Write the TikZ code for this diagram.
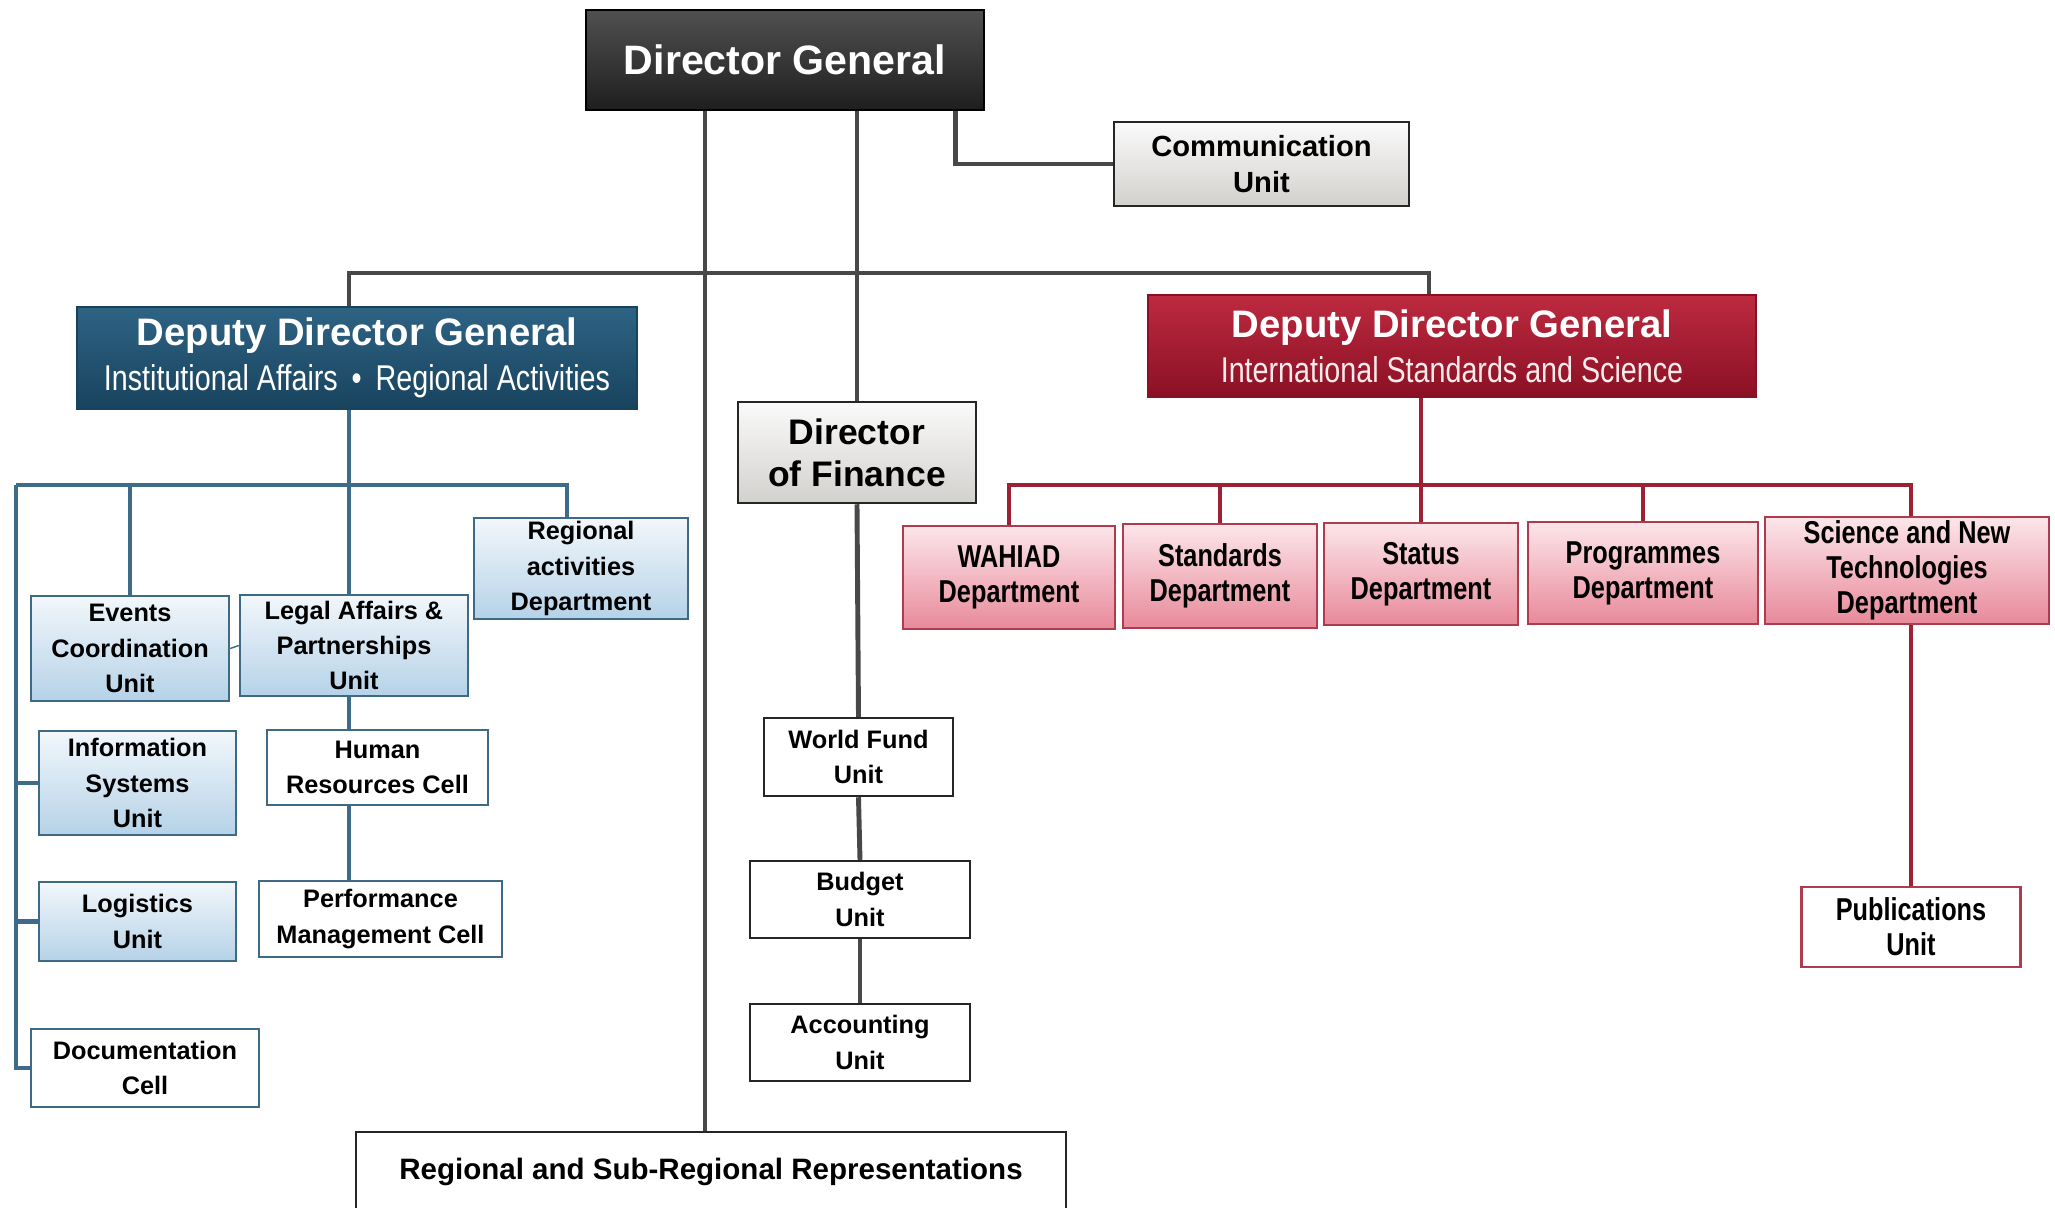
\documentclass[tikz,border=0pt]{standalone}
\usepackage{fontspec}
\setmainfont{Liberation Sans}
\newfontfamily\narrowsf[FakeStretch=0.8]{Liberation Sans}
\usepackage{tikz}
\definecolor{dgtop}{HTML}{505050}
\definecolor{dgbot}{HTML}{1E1E1E}
\definecolor{ddgbtop}{HTML}{2E6384}
\definecolor{ddgbbot}{HTML}{18435E}
\definecolor{ddgrtop}{HTML}{BE2A40}
\definecolor{ddgrbot}{HTML}{8A1024}
\definecolor{bluetop}{HTML}{F2F7FB}
\definecolor{bluebot}{HTML}{B5D2E8}
\definecolor{bluedge}{HTML}{3F6A86}
\definecolor{redtop}{HTML}{FCE6EA}
\definecolor{redbot}{HTML}{E8899A}
\definecolor{rededge}{HTML}{B03A4E}
\definecolor{greytop}{HTML}{FAFAFA}
\definecolor{greybot}{HTML}{D3D1CE}
\definecolor{linegray}{HTML}{484848}
\definecolor{lineblue}{HTML}{3C6C8A}
\definecolor{linered}{HTML}{9E2035}
\tikzstyle{every node}=[inner sep=1pt,align=center]
\tikzstyle{orgbox}=[draw=black!85,line width=0.7pt,font=\fontsize{7.2}{10}\selectfont\bfseries]
\tikzstyle{dgbox}=[orgbox,draw=black,top color=dgtop,bottom color=dgbot,text=white,font=\fontsize{11.7}{14}\selectfont\bfseries]
\tikzstyle{ddgblue}=[orgbox,draw=ddgbbot,top color=ddgbtop,bottom color=ddgbbot,text=white,font=\fontsize{10.9}{12.7}\selectfont\bfseries]
\tikzstyle{ddgred}=[orgbox,draw=ddgrbot,top color=ddgrtop,bottom color=ddgrbot,text=white,font=\fontsize{10.9}{12.7}\selectfont\bfseries]
\tikzstyle{greybox}=[orgbox,top color=greytop,bottom color=greybot]
\tikzstyle{blueunit}=[orgbox,draw=bluedge,top color=bluetop,bottom color=bluebot]
\tikzstyle{whiteunit}=[orgbox,draw=bluedge,fill=white]
\tikzstyle{finunit}=[orgbox,fill=white]
\tikzstyle{redunit}=[orgbox,draw=rededge,top color=redtop,bottom color=redbot,font=\narrowsf\fontsize{9}{10}\selectfont\bfseries]
\tikzstyle{link}=[line width=1.4pt,draw=linegray]
\tikzstyle{bluelink}=[line width=1.4pt,draw=lineblue]
\tikzstyle{redlink}=[line width=1.4pt,draw=linered]
\begin{document}
\begin{tikzpicture}[x=0.1mm,y=-0.1mm]
  \useasboundingbox (0,0) rectangle (2055,1207);
  \node[dgbox,minimum width=39.8mm,minimum height=10mm] (dg) at (785,60) {Director General};
  \node[greybox,minimum width=29.5mm,minimum height=8.4mm,font=\fontsize{8.3}{10}\selectfont\bfseries] (comm) at (1261.5,164) {Communication\\Unit};
  \node[ddgblue,minimum width=56mm,minimum height=10.2mm] (ddgb) at (357,358)
    {Deputy Director General\\{\narrowsf\mdseries\fontsize{10.2}{12.7}\selectfont Institutional Affairs \,•\, Regional Activities}};
  \node[ddgred,minimum width=60.8mm,minimum height=10.2mm] (ddgr) at (1452,346)
    {Deputy Director General\\{\narrowsf\mdseries\fontsize{10.2}{12.7}\selectfont\color{red!8} International Standards and Science}};
  \node[greybox,minimum width=23.8mm,minimum height=10.1mm,font=\fontsize{10.1}{12}\selectfont\bfseries] (dof) at (857,452.5) {Director\\of Finance};
  \node[finunit,minimum width=71mm,minimum height=8mm,font=\fontsize{8.4}{10}\selectfont\bfseries] (reps) at (711,1172) {Regional and Sub-Regional Representations};

  \node[blueunit,minimum width=19.8mm,minimum height=10.5mm] (evts) at (130,648.5) {Events\\Coordination\\Unit};
  \node[blueunit,minimum width=22.8mm,minimum height=10.1mm] (legal) at (354,645.5) {Legal Affairs \&\\Partnerships\\Unit};
  \node[blueunit,minimum width=21.4mm,minimum height=10.1mm] (regact) at (581,568.5) {Regional\\activities\\Department};
  \node[blueunit,minimum width=19.7mm,minimum height=10.4mm] (infos) at (137.5,783) {Information\\Systems\\Unit};
  \node[blueunit,minimum width=19.7mm,minimum height=7.9mm] (logis) at (137.5,921.5) {Logistics\\Unit};
  \node[whiteunit,minimum width=22.8mm,minimum height=7.8mm] (docc) at (145,1068) {Documentation\\Cell};
  \node[whiteunit,minimum width=22.1mm,minimum height=7.5mm] (hrc) at (377.5,767.5) {Human\\Resources Cell};
  \node[whiteunit,minimum width=24.3mm,minimum height=7.6mm] (perf) at (380.5,919) {Performance\\Management Cell};

  \node[finunit,minimum width=18.9mm,minimum height=7.8mm] (wfu) at (858.5,757) {World Fund\\Unit};
  \node[finunit,minimum width=22mm,minimum height=7.7mm] (budget) at (860,899.5) {Budget\\Unit};
  \node[finunit,minimum width=22mm,minimum height=7.7mm] (acct) at (860,1042.5) {Accounting\\Unit};

  \node[redunit,minimum width=21.2mm,minimum height=10.3mm] (wahiad) at (1009,577.5) {WAHIAD\\Department};
  \node[redunit,minimum width=19.4mm,minimum height=10.4mm] (stds) at (1220,576) {Standards\\Department};
  \node[redunit,minimum width=19.4mm,minimum height=10.2mm] (status) at (1421,574) {Status\\Department};
  \node[redunit,minimum width=23mm,minimum height=10.2mm] (progs) at (1643,573) {Programmes\\Department};
  \node[redunit,minimum width=28.4mm,minimum height=10.1mm] (snt) at (1907,570.5) {Science and New\\Technologies\\Department};
  \node[redunit,fill=white,top color=white,bottom color=white,minimum width=21.9mm,minimum height=8mm] (pub) at (1911,927) {Publications\\Unit};

  \coordinate (bspine) at (349,485);
  \coordinate (bleft) at (16,485);
  \coordinate (bright) at (567,485);
  \coordinate (rjoin) at (1429,273);
  \coordinate (rbar) at (1421,485);
  \coordinate (dgdown) at (705,1000);

  \draw[link] (dg.south -| dgdown) -- (reps.north -| dgdown);
  \draw[link] (dg.south -| dof.north) -- (dof.north);
  \draw[link] ([xshift=-3mm]dg.south east) |- (comm.west);
  \draw[link] (ddgb.north -| bspine) |- (rjoin) -- (ddgr.north -| rjoin);
  \draw[link] (dof.south) -- (wfu.north);
  \draw[link] (wfu.south) -- (budget.north);
  \draw[link] (budget.south) -- (acct.north);

  \draw[bluelink] (ddgb.south -| bspine) -- (legal.north -| bspine);
  \draw[bluelink] (bleft) -- (bright) -- (regact.north -| bright);
  \draw[bluelink] (evts.north |- bspine) -- (evts.north);
  \draw[bluelink] (bleft) |- (docc.west);
  \draw[bluelink] (infos.west -| bleft) -- (infos.west);
  \draw[bluelink] (logis.west -| bleft) -- (logis.west);
  \draw[bluelink] (legal.south -| bspine) -- (hrc.north -| bspine);
  \draw[bluelink] (hrc.south -| bspine) -- (perf.north -| bspine);
  \draw[lineblue,dashed,thin] (evts.east) -- (legal.west);

  \draw[redlink] (ddgr.south -| status.north) -- (status.north);
  \draw[redlink] (wahiad.north) -- (wahiad.north |- rbar) -- (pub.north |- rbar) -- (snt.north -| pub.north);
  \draw[redlink] (stds.north |- rbar) -- (stds.north);
  \draw[redlink] (progs.north |- rbar) -- (progs.north);
  \draw[redlink] (snt.south -| pub.north) -- (pub.north);
\end{tikzpicture}
\end{document}
